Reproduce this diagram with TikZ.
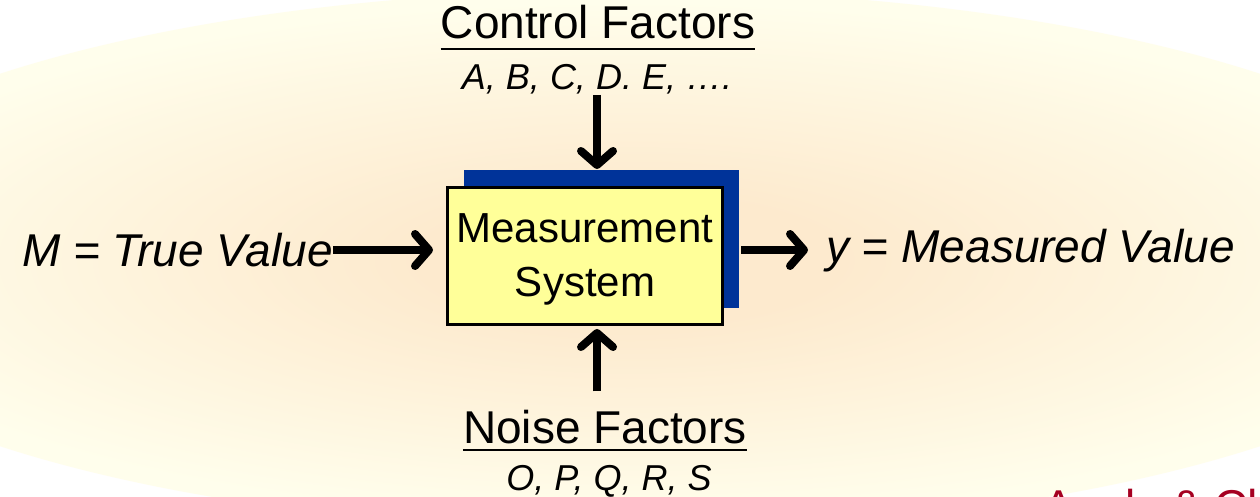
\documentclass[tikz,border=0pt]{standalone}
\usepackage{fontspec}
\setmainfont{Liberation Sans}
\usetikzlibrary{arrows.meta,shadows}
\definecolor{glowin}{RGB}{253,234,206}
\definecolor{glowout}{RGB}{255,254,236}
\definecolor{boxyellow}{RGB}{255,255,153}
\definecolor{shadowblue}{RGB}{0,51,153}
\definecolor{footred}{RGB}{165,0,33}
\pgfdeclareradialshading{glow}{\pgfpoint{0bp}{0bp}}{color(0bp)=(glowin); color(6bp)=(glowin); color(24bp)=(glowout); color(50bp)=(glowout)}
\newcommand\headsize{\fontsize{46}{55}\selectfont}
\newcommand\varsize{\fontsize{36}{43}\selectfont\itshape}
\tikzset{
  label text/.style={inner sep=0pt},
  heading/.style={label text, font=\headsize, anchor=base},
  factors/.style={label text, font=\varsize, anchor=base},
  sysbox/.style={draw, line width=3pt, fill=boxyellow, minimum width=275pt,
    minimum height=137pt, align=center, font=\fontsize{42}{50}\selectfont,
    text height=90pt,
    general shadow={fill=shadowblue, shadow xshift=16pt, shadow yshift=17pt}},
  flow/.style={line width=8pt, -{Straight Barb[length=14pt,width=32pt,round]}},
  uline/.style={line width=2.5pt}
}
\begin{document}
\begin{tikzpicture}[x=1pt,y=-1pt]
  \useasboundingbox (0,0) rectangle (1260,497);
  \clip (0,0) rectangle (1260,497);
  \fill[white] (0,0) rectangle (1260,497);
  \shade[shading=glow] (630,260) ellipse [x radius=870pt, y radius=270pt];

  % the system and its inputs and outputs
  \node[sysbox] (box) at (585,256) {Measurement\\[4pt]System};
  \coordinate (lvl) at (0,250);
  \node[label text, font=\headsize\itshape, anchor=east] (truev) at (333,250) {M = True Value};
  \node[label text, font=\headsize\itshape, anchor=base west] (meas) at (826,262) {y = Measured Value};

  \node[heading] (ctrl) at (598,39) {Control Factors};
  \node[factors] (ctrlvars) at (597,90) {A, B, C, D. E, ….};
  \node[heading] (noise) at (605,443) {Noise Factors};
  \node[factors] (noisevars) at (609,490) {O, P, Q, R, S};
  \draw[uline] ([yshift=-10pt]ctrl.base west) -- ([yshift=-10pt]ctrl.base east);
  \draw[uline] ([yshift=-7pt]noise.base west) -- ([yshift=-7pt]noise.base east);

  \draw[flow, shorten >=13pt] (truev.east |- lvl) -- (box.west |- lvl);
  \draw[flow, shorten >=18pt] ([xshift=17pt]box.east |- lvl) -- (meas.west |- lvl);
  \draw[flow, shorten >=17pt] (ctrlvars.south) -- (ctrlvars.south |- box.north);
  \draw[flow, shorten >=3pt] ([yshift=18pt]noise.north -| ctrlvars.south) -- (box.south -| ctrlvars.south);

  % footer, cut off by the page edge
  \node[label text, font=\headsize, text=footred, anchor=base west] (footer) at (1043,522) {Analy \& Ch};
\end{tikzpicture}
\end{document}
